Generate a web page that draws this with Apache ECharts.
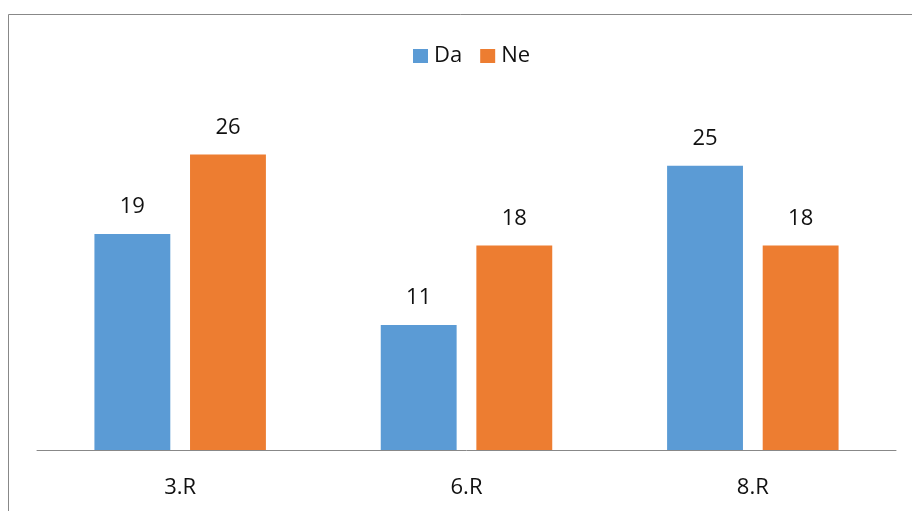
<!DOCTYPE html>
<html>
<head>
<meta charset="utf-8">
<script src="https://cdn.jsdelivr.net/npm/echarts@6/dist/echarts.min.js"></script>
<style>
  html, body { margin: 0; padding: 0; background: #fff; }
  #chart { width: 912px; height: 511px; }
</style>
</head>
<body>
<div id="chart"></div>
<script>
// Categories and series values
var categories = ['3.R', '6.R', '8.R'];
var seriesNames = ['Da', 'Ne'];
var daValues = [19, 11, 25];
var neValues = [26, 18, 18];

var FONT = '"Open Sans", sans-serif';
var TEXT = '#111';

var chart = echarts.init(document.getElementById('chart'), null, { renderer: 'canvas' });

var labelStyle = {
  show: true,
  position: 'top',
  distance: 16,
  fontSize: 22,
  color: TEXT,
  fontFamily: FONT
};

chart.setOption({
  animation: false,
  backgroundColor: '#fff',
  // chart frame: only its top and left edges fall inside the canvas
  graphic: [{
    type: 'rect',
    shape: { x: 8.5, y: 14.5, width: 1000, height: 700 },
    style: { fill: 'none', stroke: '#888', lineWidth: 1 },
    silent: true
  }],
  legend: {
    data: seriesNames,
    top: 45,
    left: 413,
    padding: 0,
    itemWidth: 15,
    itemHeight: 14,
    itemGap: 18,
    icon: 'rect',
    textStyle: { fontSize: 22, color: TEXT, fontFamily: FONT, padding: [0, 0, 0, 1] }
  },
  grid: { left: 37, right: 16, top: 109, bottom: 61, containLabel: false },
  xAxis: {
    type: 'category',
    data: categories,
    axisLine: { lineStyle: { color: '#888', width: 1 } },
    axisTick: { show: false },
    axisLabel: { fontSize: 22, color: TEXT, fontFamily: FONT, margin: 27 }
  },
  yAxis: {
    type: 'value',
    min: 0,
    max: 30,
    show: false,
    splitLine: { show: false }
  },
  series: [
    {
      name: seriesNames[0],
      type: 'bar',
      data: daValues,
      barWidth: '26.5%',
      barGap: '26%',
      itemStyle: { color: '#5B9BD5' },
      label: labelStyle
    },
    {
      name: seriesNames[1],
      type: 'bar',
      data: neValues,
      barWidth: '26.5%',
      itemStyle: { color: '#ED7D31' },
      label: labelStyle
    }
  ]
});
</script>
</body>
</html>
